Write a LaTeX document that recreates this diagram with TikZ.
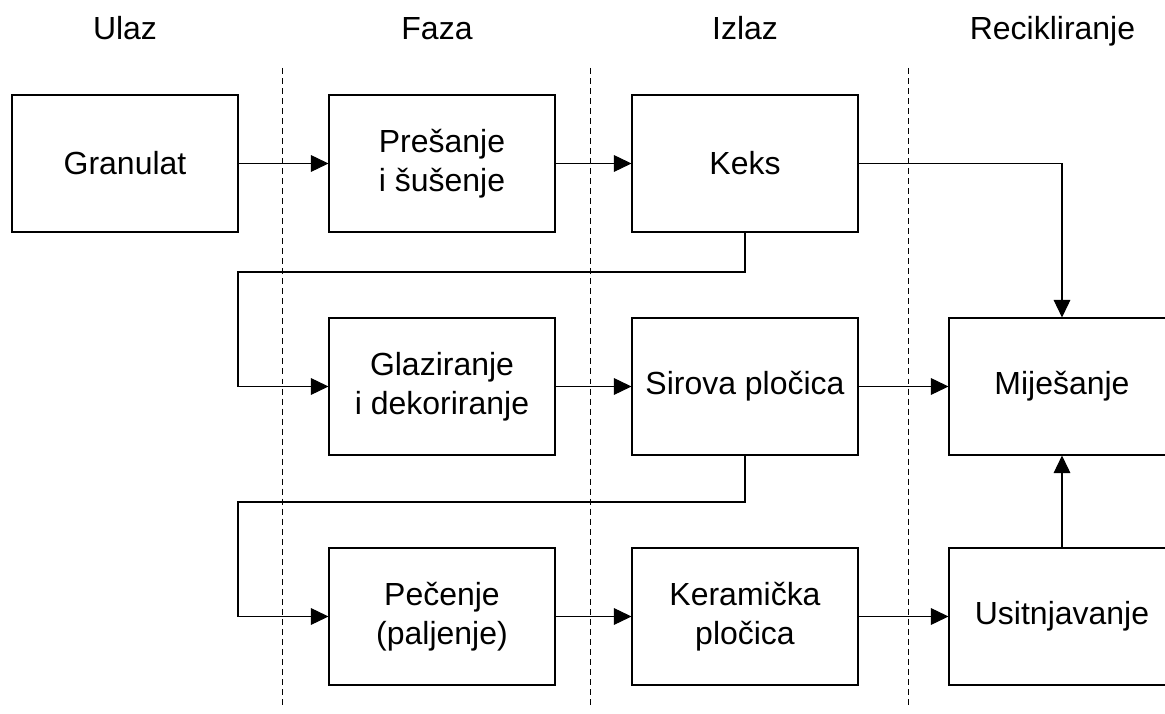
\documentclass[tikz,border=0pt]{standalone}
\usepackage{fontspec}
\setmainfont{Liberation Sans}
\usepackage{tikz}
\usetikzlibrary{arrows.meta}

\begin{document}
\begin{tikzpicture}[
  stage/.style={draw, line width=0.6pt, minimum width=4.52cm, minimum height=2.74cm,
    align=center, font=\fontsize{18.2}{22.3}\selectfont, inner sep=0pt},
  heading/.style={font=\fontsize{18.2}{22.3}\selectfont, anchor=base},
  lane/.style={line width=0.5pt, dash pattern=on 3.4pt off 2.3pt},
  arr/.style={line width=0.6pt, -{Triangle[length=10pt, width=9.5pt]}}
]
\useasboundingbox (0,0) rectangle (23.3,14.26);

% column headings
\node[heading] (hin) at (2.5,13.46) {Ulaz};
\node[heading] (hphase) at (8.74,13.46) {Faza};
\node[heading] (hout) at (14.9,13.46) {Izlaz};
\node[heading] (hrec) at (21.05,13.46) {Recikliranje};

% lanes
\draw[lane] (5.64,12.9) -- (5.64,0.16);
\draw[lane] (11.8,12.9) -- (11.8,0.16);
\draw[lane] (18.16,12.9) -- (18.16,0.16);

% stages
\node[stage] (gran) at (2.5,10.99) {Granulat};
\node[stage] (pres) at (8.84,10.99) {Prešanje\\i šušenje};
\node[stage] (keks) at (14.9,10.99) {Keks};
\node[stage] (glaz) at (8.84,6.53) {Glaziranje\\i dekoriranje};
\node[stage] (sir) at (14.9,6.53) {Sirova pločica};
\node[stage] (mij) at (21.24,6.53) {Miješanje};
\node[stage] (pec) at (8.84,1.93) {Pečenje\\(paljenje)};
\node[stage] (ker) at (14.9,1.93) {Keramička\\pločica};
\node[stage] (usit) at (21.24,1.93) {Usitnjavanje};

\coordinate (loopA) at (4.76,8.82);
\coordinate (loopB) at (4.76,4.22);

% flow
\draw[arr] (gran) -- (pres);
\draw[arr] (pres) -- (keks);
\draw[arr] (keks.east) -| (mij.north);
\draw[arr] (keks.south) |- (loopA) |- (glaz.west);
\draw[arr] (glaz) -- (sir);
\draw[arr] (sir) -- (mij);
\draw[arr] (sir.south) |- (loopB) |- (pec.west);
\draw[arr] (pec) -- (ker);
\draw[arr] (ker) -- (usit);
\draw[arr] (usit) -- (mij);
\end{tikzpicture}
\end{document}
